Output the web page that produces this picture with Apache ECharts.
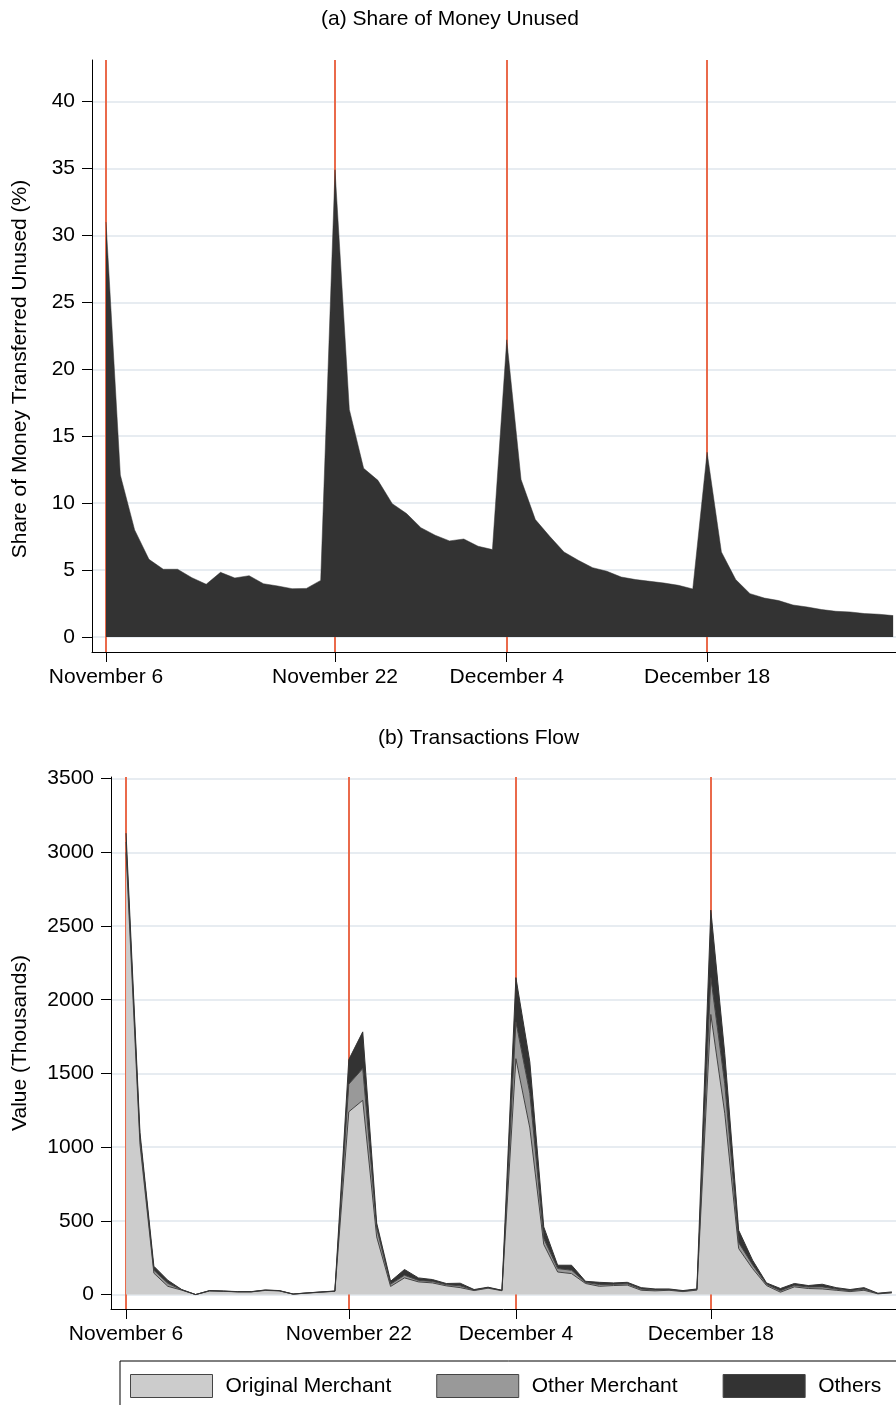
<!DOCTYPE html>
<html>
<head>
<meta charset="utf-8">
<script src="https://cdn.jsdelivr.net/npm/echarts@6/dist/echarts.min.js"></script>
<style>
  html, body { margin: 0; padding: 0; background: #fff; }
  #chart { width: 896px; height: 1405px; }
</style>
</head>
<body>
<div id="chart"></div>
<script>
// day 0 = November 6, one value per day up to December 31
const tickDays = [0, 16, 28, 42]
const tickLabels = ['November 6', 'November 22', 'December 4', 'December 18']
const shareTicks = [0, 5, 10, 15, 20, 25, 30, 35, 40]
const valueTicks = [0, 500, 1000, 1500, 2000, 2500, 3000, 3500]

// (a) share of money transferred unused (%)
const shareUnused = [
  31.0, 12.1, 8.0, 5.8, 5.06, 5.06, 4.43, 3.94, 4.83, 4.41, 4.58, 3.98, 3.81, 3.61, 3.63, 4.23,
  34.9, 17.0, 12.6, 11.7, 9.96, 9.22, 8.17, 7.6, 7.18, 7.32, 6.78, 6.53,
  22.2, 11.76, 8.77, 7.52, 6.35, 5.73, 5.18, 4.91, 4.48, 4.29, 4.16, 4.03, 3.86, 3.59,
  13.8, 6.35, 4.29, 3.24, 2.91, 2.72, 2.39, 2.24, 2.05, 1.92, 1.87, 1.75, 1.7, 1.6
]

// (b) transactions flow, value in thousands
const originalMerchant = [
  3000, 1020, 145, 56, 30, 0, 24, 22, 18, 18, 28, 25, 3, 10, 16, 22,
  1240, 1318, 391, 55, 113, 86, 79, 59, 47, 27, 43, 26,
  1600, 1130, 340, 153, 142, 75, 56, 61, 64, 29, 25, 29, 20, 30,
  1900, 1230, 312, 176, 61, 16, 52, 41, 38, 29, 20, 29, 5, 11
]
const otherMerchant = [
  70, 45, 20, 20, 2, 0, 2, 1, 1, 1, 2, 1, 0, 1, 1, 1,
  187, 215, 60, 15, 18, 10, 10, 8, 12, 3, 4, 2,
  250, 235, 40, 23, 23, 7, 12, 8, 9, 8, 6, 4, 3, 4,
  250, 200, 40, 25, 9, 10, 10, 10, 14, 8, 6, 8, 2, 3
]
const others = [
  60, 35, 27, 21, 2, 0, 1, 1, 1, 1, 1, 1, 1, 0, 1, 1,
  167, 249, 34, 20, 39, 17, 13, 8, 18, 4, 3, 1,
  300, 213, 79, 23, 34, 8, 15, 10, 10, 10, 7, 5, 4, 4,
  458, 205, 84, 32, 9, 15, 13, 10, 18, 10, 8, 10, 2, 4
]

const font = "'Liberation Sans', Arial, sans-serif"
const red = '#ea6a4b'
const grid = '#e7ecf1'

const chart = echarts.init(document.getElementById('chart'))

// value first so that the stack goes on y, day index second
const toPoints = arr => arr.map((v, i) => [v, i])

const xAxisBase = (min, max, idx) => ({
  type: 'value',
  gridIndex: idx,
  min: min,
  max: max,
  axisLine: { show: true, onZero: false, lineStyle: { color: '#000', width: 1 } },
  axisTick: { show: true, length: 10, inside: false, customValues: tickDays, lineStyle: { color: '#000' } },
  axisLabel: {
    show: true, margin: 15, customValues: tickDays,
    color: '#000', fontSize: 21, fontFamily: font,
    formatter: v => tickLabels[tickDays.indexOf(v)] || ''
  },
  splitLine: { show: false }
})

const yAxisBase = (min, max, idx, ticks, name, gap, pad) => ({
  type: 'value',
  gridIndex: idx,
  min: min,
  max: max,
  name: name,
  nameLocation: 'middle',
  nameGap: gap,
  nameTextStyle: { color: '#000', fontSize: 21, fontFamily: font, padding: pad },
  axisLine: { show: true, onZero: false, lineStyle: { color: '#000', width: 1 } },
  axisTick: { show: true, length: 10, inside: false, customValues: ticks, lineStyle: { color: '#000' } },
  axisLabel: {
    show: true, margin: 17, customValues: ticks,
    color: '#000', fontSize: 21, fontFamily: font,
    formatter: v => String(v)
  },
  splitLine: { show: true, lineStyle: { color: grid, width: 2 } }
})

const redLines = {
  silent: true,
  symbol: 'none',
  z: 1,
  label: { show: false },
  lineStyle: { color: red, width: 2, type: 'solid' },
  data: tickDays.map(d => ({ xAxis: d }))
}

const areaSeries = (name, values, fill, axisIdx, extra) => Object.assign({
  name: name,
  type: 'line',
  xAxisIndex: axisIdx,
  yAxisIndex: axisIdx,
  encode: { x: 1, y: 0 },
  symbol: 'none',
  z: 2,
  lineStyle: { color: '#444', width: 1 },
  itemStyle: { color: fill },
  areaStyle: { color: fill, opacity: 1 },
  data: toPoints(values)
}, extra)

const option = {
  animation: false,
  backgroundColor: '#fff',
  title: [
    { text: '(a) Share of Money Unused', left: 321, top: 9, padding: 0,
      textStyle: { color: '#000', fontSize: 21, fontWeight: 'normal', fontFamily: font } },
    { text: '(b) Transactions Flow', left: 378, top: 728, padding: 0,
      textStyle: { color: '#000', fontSize: 21, fontWeight: 'normal', fontFamily: font } }
  ],
  grid: [
    { left: 92, top: 60, right: 0, height: 592, containLabel: false, outerBoundsMode: 'none' },
    { left: 111, top: 777, right: 0, height: 532, containLabel: false, outerBoundsMode: 'none' }
  ],
  xAxis: [xAxisBase(-0.98, 55.2, 0), xAxisBase(-1.08, 55.3, 1)],
  yAxis: [
    yAxisBase(-1.12, 43.1, 0, shareTicks, 'Share of Money Transferred Unused (%)', 61, [0, 26, 0, 0]),
    yAxisBase(-98, 3511, 1, valueTicks, 'Value (Thousands)', 80, 0)
  ],
  legend: {
    left: 120,
    top: 1361,
    width: 780,
    padding: [13, 60, 20, 10],
    borderColor: '#000',
    borderWidth: 1,
    itemWidth: 82,
    itemHeight: 23,
    itemGap: 45,
    icon: 'rect',
    selectedMode: false,
    itemStyle: { borderColor: '#444', borderWidth: 1 },
    textStyle: { color: '#000', fontSize: 21, fontFamily: font, padding: [0, 0, 0, 8] },
    data: [
      { name: 'Original Merchant', itemStyle: { color: '#cccccc' } },
      { name: 'Other Merchant', itemStyle: { color: '#999999' } },
      { name: 'Others', itemStyle: { color: '#333333' } }
    ]
  },
  series: [
    areaSeries('Share Unused', shareUnused, '#333333', 0, {
      lineStyle: { color: '#333333', width: 0.5 },
      markLine: redLines
    }),
    areaSeries('Original Merchant', originalMerchant, '#cccccc', 1, { stack: 'flow', markLine: redLines }),
    areaSeries('Other Merchant', otherMerchant, '#999999', 1, { stack: 'flow' }),
    areaSeries('Others', others, '#333333', 1, { stack: 'flow', lineStyle: { color: '#333', width: 1 } })
  ]
}

chart.setOption(option)
</script>
</body>
</html>
